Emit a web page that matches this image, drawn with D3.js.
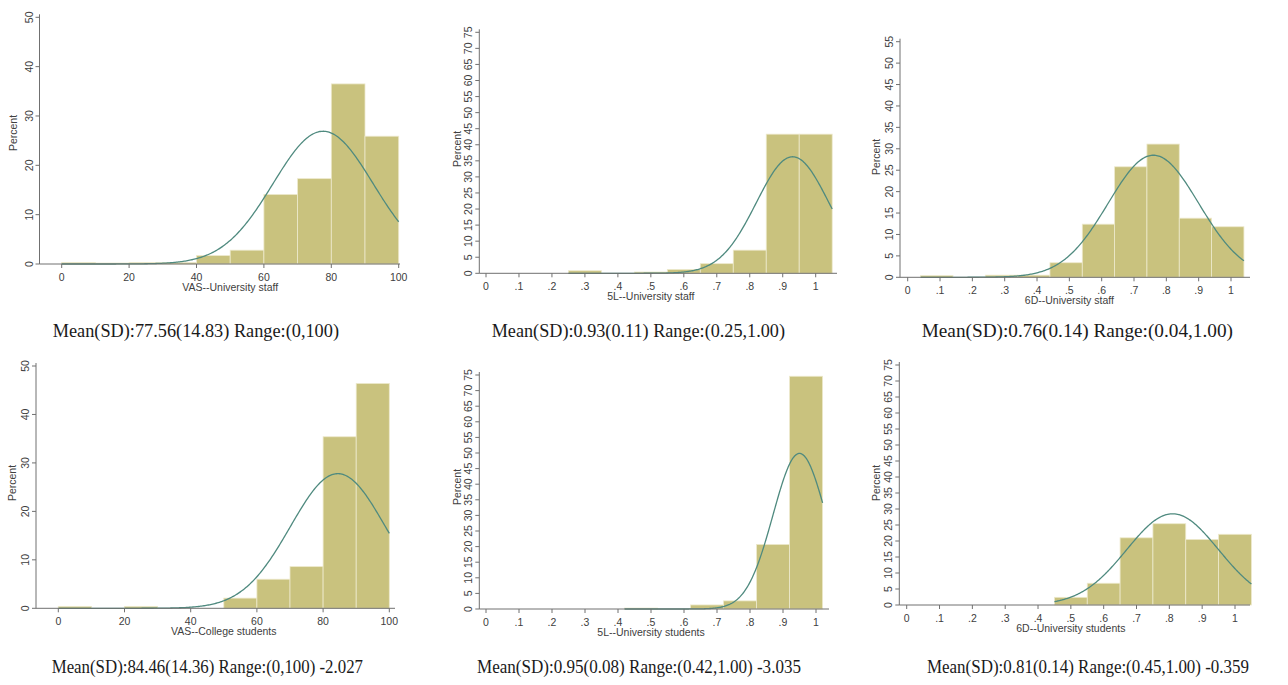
<!DOCTYPE html>
<html>
<head>
<meta charset="utf-8">
<script src="https://cdn.jsdelivr.net/npm/d3@7"></script>
<style>
  html, body { margin: 0; padding: 0; background: #ffffff; }
  svg { display: block; }
</style>
</head>
<body>
<svg id="chart" width="1288" height="685"></svg>
<script>
// ---------------- DATA ----------------
const xLabels = ["VAS--University staff", "5L--University staff", "6D--University staff",
                 "VAS--College students", "5L--University students", "6D--University students"];
const captions = ["Mean(SD):77.56(14.83) Range:(0,100)",
                  "Mean(SD):0.93(0.11) Range:(0.25,1.00)",
                  "Mean(SD):0.76(0.14) Range:(0.04,1.00)",
                  "Mean(SD):84.46(14.36) Range:(0,100) -2.027",
                  "Mean(SD):0.95(0.08) Range:(0.42,1.00) -3.035",
                  "Mean(SD):0.81(0.14) Range:(0.45,1.00) -0.359"];
const means = [77.56, 0.93, 0.76, 84.46, 0.95, 0.81];
const sds = [14.83, 0.11, 0.14, 14.36, 0.08, 0.14];
const binStarts = [0, 0.25, 0.04, 0, 0.42, 0.45];
const binWidths = [10, 0.1, 0.1, 10, 0.1, 0.1];
const pctVasStaff    = [0.3, 0.2, 0.3, 0.3, 1.7, 2.8, 14.1, 17.3, 36.5, 25.9];
const pct5lStaff     = [0.8, 0, 0.4, 1.2, 3.0, 7.2, 43.3, 43.3];
const pct6dStaff     = [0.4, 0, 0.5, 0.5, 3.4, 12.4, 25.8, 31.1, 13.8, 11.8];
const pctVasStudents = [0.4, 0, 0.4, 0, 0, 2.1, 6.0, 8.6, 35.4, 46.4];
const pct5lStudents  = [0.3, 0, 1.3, 2.6, 20.7, 74.6];
const pct6dStudents  = [2.4, 6.8, 21.0, 25.4, 20.5, 22.1];
const pctSeries = [pctVasStaff, pct5lStaff, pct6dStaff, pctVasStudents, pct5lStudents, pct6dStudents];
const xTicksVas = [0, 20, 40, 60, 80, 100];
const xTicksUtil = [0, 0.1, 0.2, 0.3, 0.4, 0.5, 0.6, 0.7, 0.8, 0.9, 1];
const yTicks50by10 = [0, 10, 20, 30, 40, 50];
const yTicks75by5 = [0, 5, 10, 15, 20, 25, 30, 35, 40, 45, 50, 55, 60, 65, 70, 75];
const yTicks55by5 = [0, 5, 10, 15, 20, 25, 30, 35, 40, 45, 50, 55];
const xTickSets = [xTicksVas, xTicksUtil, xTicksUtil, xTicksVas, xTicksUtil, xTicksUtil];
const yTickSets = [yTicks50by10, yTicks75by5, yTicks55by5, yTicks50by10, yTicks75by5, yTicks75by5];

// ---------------- LAYOUT (pixels) ----------------
const layouts = [
  {ax: 39.5,  x0: 61.7,  x1: 398.7, right: 400,  y0: 264,   yTop: 17.3,  pLab: [13, 133],  cap: [52.7, 339, 337]},
  {ax: 479.3, x0: 486,   x1: 815.7, right: 837,  y0: 273.3, yTop: 32.3,  pLab: [457, 149], cap: [491.7, 785, 337]},
  {ax: 900,   x0: 907.7, x1: 1231,  right: 1250, y0: 277.3, yTop: 41.7,  pLab: [876, 157], cap: [921.7, 1233, 337]},
  {ax: 36,    x0: 58.3,  x1: 389.3, right: 395,  y0: 608.3, yTop: 366,   pLab: [12.7, 483], cap: [51.7, 363, 673]},
  {ax: 479.3, x0: 486,   x1: 816,   right: 829,  y0: 609,   yTop: 375,   pLab: [457, 487], cap: [477, 801, 673]},
  {ax: 899.3, x0: 906.7, x1: 1235,  right: 1250, y0: 605,   yTop: 365,   pLab: [876, 483], cap: [927, 1249, 673]}
];

const barFill = "#c9c27e";
const barStroke = "#ede9cc";
const curveColor = "#4f8a7f";
const axisColor = "#707070";
const textColor = "#404040";
const axisFont = "'Liberation Sans', Arial, sans-serif";

const svg = d3.select("#chart");

function fmtUtil(v) {
  if (v === 0) return "0";
  if (v === 1) return "1";
  return d3.format(".1f")(v).replace(/^0/, "");
}

layouts.forEach((L, i) => {
  const g = svg.append("g");
  const isVas = (i === 0 || i === 3);
  const xDomainMax = isVas ? 100 : 1;
  const yTicks = yTickSets[i];
  const yMax = yTicks[yTicks.length - 1];
  const x = d3.scaleLinear().domain([0, xDomainMax]).range([L.x0, L.x1]);
  const y = d3.scaleLinear().domain([0, yMax]).range([L.y0, L.yTop]);

  // bars
  const w = binWidths[i], s = binStarts[i];
  const bins = pctSeries[i].map((p, k) => ({a: s + k * w, b: s + (k + 1) * w, p}));
  g.selectAll("rect.bar").data(bins.filter(d => d.p > 0)).enter().append("rect")
    .attr("class", "bar")
    .attr("x", d => x(d.a))
    .attr("width", d => x(d.b) - x(d.a))
    .attr("y", d => y(d.p))
    .attr("height", d => y(0) - y(d.p))
    .attr("fill", barFill)
    .attr("stroke", barStroke)
    .attr("stroke-width", 0.8);

  // normal curve (percent scale) over bin range
  const lo = s, hi = s + pctSeries[i].length * w;
  const m = means[i], sd = sds[i];
  const pts = d3.range(0, 301).map(k => {
    const xv = lo + (hi - lo) * k / 300;
    const z = (xv - m) / sd;
    return [xv, 100 * w * Math.exp(-0.5 * z * z) / (sd * Math.sqrt(2 * Math.PI))];
  });
  g.append("path")
    .datum(pts)
    .attr("d", d3.line().x(d => x(d[0])).y(d => y(d[1])))
    .attr("fill", "none")
    .attr("stroke", curveColor)
    .attr("stroke-width", 1.3);

  // x axis
  g.append("line")
    .attr("x1", L.ax).attr("x2", L.right)
    .attr("y1", L.y0).attr("y2", L.y0)
    .attr("stroke", axisColor).attr("stroke-width", 1);
  const xt = xTickSets[i];
  g.selectAll("line.xt").data(xt).enter().append("line")
    .attr("x1", d => x(d)).attr("x2", d => x(d))
    .attr("y1", L.y0).attr("y2", L.y0 + 4)
    .attr("stroke", axisColor).attr("stroke-width", 1);
  g.selectAll("text.xt").data(xt).enter().append("text")
    .attr("x", d => x(d)).attr("y", L.y0 + 17)
    .attr("text-anchor", "middle")
    .attr("font-family", axisFont).attr("font-size", 10.5)
    .attr("fill", textColor)
    .text(d => isVas ? String(d) : fmtUtil(d));
  g.append("text")
    .attr("x", (L.x0 + L.x1) / 2).attr("y", L.y0 + 27)
    .attr("text-anchor", "middle")
    .attr("font-family", axisFont).attr("font-size", 10.5)
    .attr("fill", textColor)
    .text(xLabels[i]);

  // y axis
  g.append("line")
    .attr("x1", L.ax).attr("x2", L.ax)
    .attr("y1", L.y0).attr("y2", L.yTop - 3)
    .attr("stroke", axisColor).attr("stroke-width", 1);
  g.selectAll("line.yt").data(yTicks).enter().append("line")
    .attr("x1", L.ax - 4).attr("x2", L.ax)
    .attr("y1", d => y(d)).attr("y2", d => y(d))
    .attr("stroke", axisColor).attr("stroke-width", 1);
  g.selectAll("text.yt").data(yTicks).enter().append("text")
    .attr("transform", d => `translate(${L.ax - 7},${y(d)}) rotate(-90)`)
    .attr("text-anchor", "middle")
    .attr("font-family", axisFont).attr("font-size", 10.5)
    .attr("fill", textColor)
    .text(d => String(d));
  g.append("text")
    .attr("transform", `translate(${L.pLab[0] + 3.5},${L.pLab[1]}) rotate(-90)`)
    .attr("text-anchor", "middle")
    .attr("font-family", axisFont).attr("font-size", 10.5)
    .attr("fill", textColor)
    .text("Percent");

  // caption
  svg.append("text")
    .attr("x", L.cap[0]).attr("y", L.cap[2])
    .attr("font-family", "'Liberation Serif', 'Times New Roman', serif")
    .attr("font-size", 19)
    .attr("fill", "#1a1a1a")
    .attr("textLength", L.cap[1] - L.cap[0])
    .attr("lengthAdjust", "spacingAndGlyphs")
    .text(captions[i]);
});
</script>
</body>
</html>
